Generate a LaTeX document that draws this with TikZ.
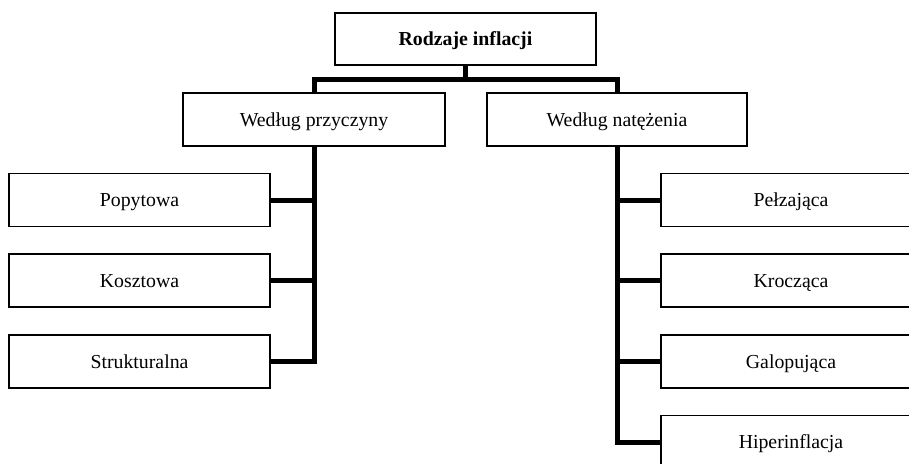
\documentclass[tikz,border=0pt]{standalone}
\usepackage{fontspec}
\setmainfont{Liberation Serif}
\begin{document}
\begin{tikzpicture}[x=1pt,y=-1pt,
  box/.style={draw, line width=1.3pt, minimum width=261pt, minimum height=53pt,
    inner sep=0pt, text height=13.1pt, text depth=0pt,
    font=\fontsize{19.8}{24}\selectfont},
  link/.style={line width=5pt, line join=miter}]
\useasboundingbox (0,0) rectangle (909,463);
\clip (0,0) rectangle (909,463);
% top
\node[box, minimum height=52pt, font=\bfseries\fontsize{19.8}{24}\selectfont] (top) at (465.5,39) {Rodzaje inflacji};
% second level
\node[box, minimum width=262pt] (s1) at (314,119.5) {Według przyczyny};
\node[box, minimum width=260pt] (s2) at (617,119.5) {Według natężenia};
% left column
\node[box] (l1) at (139.5,200) {Popytowa};
\node[box] (l2) at (139.5,280.5) {Kosztowa};
\node[box] (l3) at (139.5,361.5) {Strukturalna};
% right column
\node[box, minimum width=260pt] (r1) at (791,200) {Pełzająca};
\node[box, minimum width=260pt] (r2) at (791,280.5) {Krocząca};
\node[box, minimum width=260pt] (r3) at (791,361.5) {Galopująca};
\node[box, minimum width=260pt] (r4) at (791,442) {Hiperinflacja};
% connectors
\coordinate (bar) at (465.5,79);
\draw[link] (top.south) -- (bar) -| (s1.north);
\draw[link] (bar) -| (s2.north);
\draw[link] (s1.south) |- (l3.east);
\draw[link] (l1.east) -- (l1.east -| s1.south);
\draw[link] (l2.east) -- (l2.east -| s1.south);
\draw[link] (s2.south) |- (r4.west);
\draw[link] (r1.west) -- (r1.west -| s2.south);
\draw[link] (r2.west) -- (r2.west -| s2.south);
\draw[link] (r3.west) -- (r3.west -| s2.south);
\end{tikzpicture}
\end{document}
